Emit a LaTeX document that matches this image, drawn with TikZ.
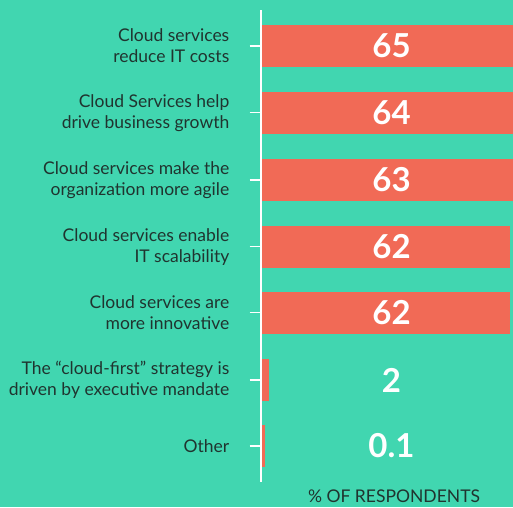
\documentclass[tikz,border=0pt]{standalone}
\usepackage{fontspec}
\setmainfont{Lato}
\definecolor{mint}{RGB}{65,214,176}
\definecolor{coral}{RGB}{241,106,86}
\definecolor{ink}{RGB}{32,52,47}
\tikzset{
	catlabel/.style={anchor=east, align=right, text=ink, inner sep=0pt,
		font=\fontsize{17.5}{21}\selectfont},
	value/.style={text=white, inner sep=0pt, font=\fontsize{33}{33}\selectfont\bfseries},
	barbox/.style={fill=coral},
	tickmark/.style={draw=white, line width=1.2pt}
}
\begin{document}
\begin{tikzpicture}[x=1pt,y=-1pt]
	\useasboundingbox (0,0) rectangle (513,507);
	\clip (0,0) rectangle (513,507);
	\fill[mint] (0,0) rectangle (513,507);

	% bars, ticks, labels and values
	\foreach \yc/\xe/\num/\txt [count=\i] in {
		46/522/65/{Cloud services\\reduce IT costs},
		112.7/518/64/{Cloud Services help\\drive business growth},
		180/514/63/{Cloud services make the\\organization more agile},
		246.7/510/62/{Cloud services enable\\IT scalability},
		312.7/510/62/{Cloud services are\\more innovative},
		380/269/2/{The “cloud-first” strategy is\\driven by executive mandate},
		446/265/0.1/{Other}} {
		\path[barbox] (261.5,\yc-21) rectangle (\xe,\yc+21);
		\path[tickmark] (249.5,\yc) -- (261,\yc);
		\node[catlabel] (lbl\i) at (229.5,\yc) {\txt};
		\node[value] (val\i) at (391.5,\yc) {\num};
	}

	\path[draw=white, line width=1.3pt] (261,10) -- (261,482);

	\node[text=ink, font=\fontsize{17.5}{18}\selectfont] (axis) at (394,496) {\% OF RESPONDENTS};
\end{tikzpicture}
\end{document}
